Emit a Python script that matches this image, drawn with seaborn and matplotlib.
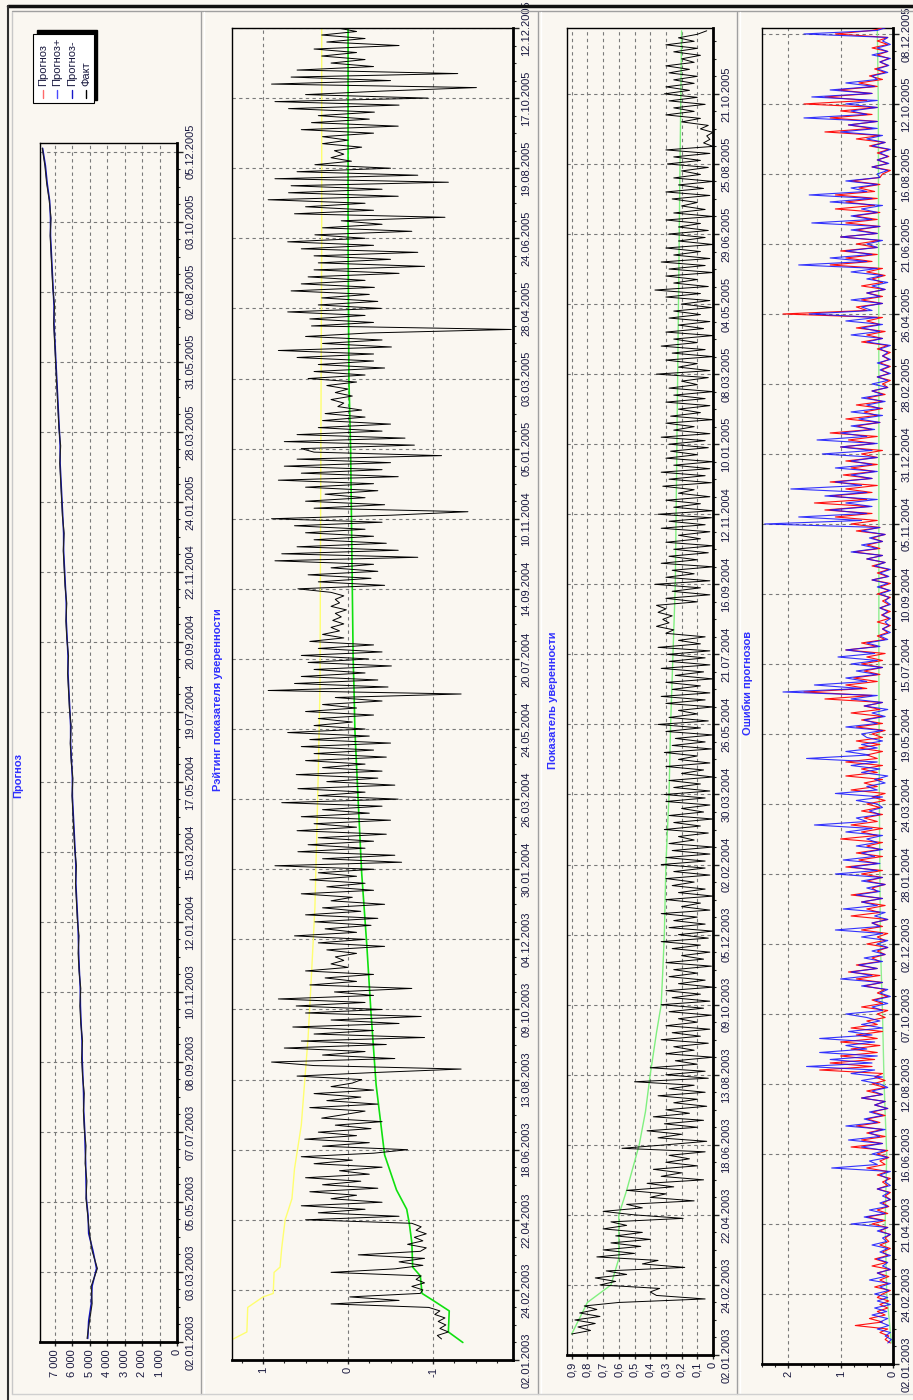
import numpy as np
import pandas as pd
import matplotlib
matplotlib.use("Agg")
import matplotlib.pyplot as plt
import seaborn as sns
from matplotlib.lines import Line2D
from matplotlib.patches import Rectangle
from matplotlib.ticker import MultipleLocator

sns.set_style("ticks")
plt.rcParams['font.family'] = ['Liberation Sans', 'DejaVu Sans']

# ---------------- data ----------------
dates_p1 = ["02.01.2003", "03.03.2003", "05.05.2003", "07.07.2003", "08.09.2003", "10.11.2003",
            "12.01.2004", "15.03.2004", "17.05.2004", "19.07.2004", "20.09.2004", "22.11.2004",
            "24.01.2005", "28.03.2005", "31.05.2005", "02.08.2005", "03.10.2005", "05.12.2005"]
dates_p2 = ["02.01.2003", "24.02.2003", "22.04.2003", "18.06.2003", "13.08.2003", "09.10.2003",
            "04.12.2003", "30.01.2004", "26.03.2004", "24.05.2004", "20.07.2004", "14.09.2004",
            "10.11.2004", "05.01.2005", "03.03.2005", "28.04.2005", "24.06.2005", "19.08.2005",
            "17.10.2005", "12.12.2005"]
dates_p3 = ["02.01.2003", "24.02.2003", "22.04.2003", "18.06.2003", "13.08.2003", "09.10.2003",
            "05.12.2003", "02.02.2004", "30.03.2004", "26.05.2004", "21.07.2004", "16.09.2004",
            "12.11.2004", "10.01.2005", "08.03.2005", "04.05.2005", "29.06.2005", "25.08.2005",
            "21.10.2005"]
dates_p4 = ["02.01.2003", "24.02.2003", "21.04.2003", "16.06.2003", "12.08.2003", "07.10.2003",
            "02.12.2003", "28.01.2004", "24.03.2004", "19.05.2004", "15.07.2004", "10.09.2004",
            "05.11.2004", "31.12.2004", "28.02.2005", "26.04.2005", "21.06.2005", "16.08.2005",
            "12.10.2005", "08.12.2005"]

# Panel 1: forecast (Прогноз) vs fact (Факт)
p1_fact = [5140, 5000, 4850, 4900, 4550, 4850, 5000, 5100, 5200, 5150,
           5250, 5200, 5300, 5350, 5300, 5400, 5450, 5400, 5500, 5550,
           5500, 5600, 5650, 5600, 5700, 5750, 5800, 5750, 5850, 5900,
           5950, 6000, 5950, 6050, 6100, 6050, 6150, 6200, 6250, 6200,
           6300, 6350, 6300, 6400, 6450, 6500, 6450, 6550, 6600, 6650,
           6700, 6650, 6750, 6800, 6850, 6900, 6950, 7000, 7050, 7000,
           7100, 7150, 7200, 7250, 7200, 7300, 7450, 7550, 7700]
p1_forecast = [5100, 5050, 4900, 4850, 4600, 4800, 5050, 5080, 5180, 5200,
               5220, 5250, 5280, 5330, 5340, 5380, 5420, 5430, 5480, 5520,
               5530, 5580, 5620, 5640, 5680, 5730, 5780, 5780, 5830, 5880,
               5930, 5980, 5980, 6030, 6080, 6080, 6130, 6180, 6230, 6230,
               6280, 6330, 6330, 6380, 6430, 6480, 6480, 6530, 6580, 6630,
               6680, 6680, 6730, 6780, 6830, 6880, 6930, 6980, 7030, 7030,
               7080, 7130, 7180, 7230, 7230, 7280, 7420, 7520, 7680]

# Panel 2: rating of the confidence indicator (every 2nd trading day)
p2_rating = [
    -1.10, -1.05, -1.18, -1.08, -1.15, -1.06, -1.14, -1.02, -1.08, -0.95, 0.20, -0.60, -0.02, -0.85,
    -0.88, -0.75, -0.90, -0.80, -0.86, 0.20, -0.55, -0.88, -0.60, -0.90,
    -0.12, -0.85, -0.92, -0.70, -0.88, -0.78, -0.92, -0.80, -0.86, -0.75,
    0.50, -0.60, 0.35, -0.20, 0.55, -0.40, 0.20, -0.10, 0.45, -0.35,
    0.30, -0.15, 0.50, -0.25, 0.10, -0.40, 0.40, -0.05, 0.55, -0.30,
    -0.70, 0.30, -0.25, 0.51, -0.10, 0.35, -0.27, 0.15, -0.40, 0.31,
    0.05, -0.20, 0.45, -0.35, 0.25, -0.15, 0.40, -0.30, 0.20, -0.05,
    -0.16, 0.60, -0.30, -1.33, 0.40, 0.90, -0.55, 0.30, -0.20, 0.75,
    -0.45, 0.55, -0.90, 0.40, -0.30, 0.65, -0.60, 0.20, -0.86, 0.50,
    -0.40, 0.61, -0.20, 0.82, -0.30, 0.16, -0.75, 0.45, -0.10, 0.27,
    -0.30, 0.50, 0.00, 0.20, 0.05, 0.15, -0.10, 0.25, -0.43, 0.35,
    -0.20, 0.63, -0.10, 0.27, -0.27, 0.39, -0.35, 0.50, -0.15, 0.30,
    -0.43, 0.20, -0.05, 0.55, -0.30, 0.25, -0.20, 0.45, -0.10, 0.35,
    -0.30, 0.86, -0.63, 0.30, -0.55, 0.59, -0.20, 0.47, -0.30, 0.35,
    -0.45, 0.60, -0.10, 0.40, -0.50, 0.55, -0.25, 0.30, -0.40, 0.78,
    -0.59, 0.35, -0.20, 0.59, -0.55, 0.25, -0.35, 0.61, -0.40, 0.30,
    -0.20, 0.50, -0.45, 0.40, -0.30, 0.55, -0.50, 0.45, -0.25, 0.71,
    -0.20, 0.40, -0.05, 0.35, -0.30, 0.50, -0.10, 0.30, -0.40, 0.15,
    -1.33, 0.94, -0.47, 0.63, -0.35, 0.55, -0.20, 0.40, -0.51, 0.47,
    -0.24, 0.55, -0.40, 0.35, -0.30, 0.45, 0.05, 0.30, 0.10, 0.20,
    0.05, 0.18, 0.08, 0.15, 0.02, 0.20, 0.10, 0.15, 0.05, 0.20,
    0.59, -0.43, 0.35, -0.27, 0.47, -0.35, 0.20, -0.30, 0.86, -0.82,
    0.78, -0.59, 0.60, -0.45, 0.40, -0.30, 0.50, -0.20, 0.63, -0.40,
    0.90, -0.50, -1.41, 0.40, -0.43, 0.50, -0.20, 0.27, -0.35, 0.50,
    -0.30, 0.82, -0.59, 0.55, -0.40, 0.75, -0.50, 0.60, -1.10, 0.40,
    0.55, -0.78, 0.75, -0.67, 0.60, -0.40, 0.35, -0.50, 0.30, -0.20,
    0.27, -0.16, 0.12, 0.05, 0.20, -0.05, 0.15, 0.00, 0.25, -0.10,
    0.47, -0.20, 0.40, -0.43, 0.35, -0.30, 0.60, -0.30, 0.82, -0.51,
    0.30, -0.40, 0.50, -0.25, -1.92, 0.43, -0.30, 0.45, -0.20, 0.71,
    -0.39, 0.35, -0.35, 0.31, -0.25, 0.67, -0.31, 0.55, -0.20, 0.47,
    -0.60, 0.40, -0.90, 0.35, -0.50, 0.40, -0.82, 0.55, -0.30, 0.71,
    -0.20, 0.39, -0.75, 0.30, -0.40, 0.08, -1.14, 0.63, -0.30, 0.50,
    -0.20, 0.94, -0.59, 0.70, -0.40, 0.67, -1.18, 0.86, -0.82, 0.60,
    -0.50, 0.39, -0.04, 0.20, 0.05, 0.16, -0.16, 0.30, 0.00, 0.30,
    -0.30, 0.55, -0.59, 0.43, -0.25, 0.35, -0.31, 0.70, -0.60, 0.86,
    -0.94, 0.50, -0.40, -1.51, 0.90, -0.50, 0.67, -1.29, 0.60, -0.30,
    0.20, -0.20, 0.31, -0.10, 0.40, -0.60, 0.25, -0.20, 0.31, -0.10,
    0.12]
p2_upper_days = [12, 16, 30, 36, 38, 50, 53, 64, 80, 92, 109, 134, 159, 184, 220, 258, 296,
                 336, 384, 520, 640, 760]
p2_upper = [1.35, 1.19, 1.18, 1.00, 0.88, 0.87, 0.80, 0.78, 0.74, 0.66, 0.63, 0.55, 0.51,
            0.47, 0.43, 0.39, 0.37, 0.35, 0.33, 0.32, 0.31, 0.31]
p2_mean_days = [10, 16, 28, 34, 38, 48, 53, 67, 78, 86, 97, 117, 157, 198, 237, 278, 318,
                360, 383, 400, 480, 520, 560, 640, 760]
p2_mean = [-1.35, -1.18, -1.19, -1.00, -0.87, -0.85, -0.76, -0.75, -0.72, -0.69, -0.57,
           -0.43, -0.33, -0.27, -0.22, -0.16, -0.12, -0.08, -0.07, -0.06, -0.04, -0.03,
           -0.01, 0.00, 0.00]

# Panel 3: confidence indicator (every 2nd trading day)
p3_conf = [
    0.90, 0.78, 0.86, 0.75, 0.88, 0.72, 0.85, 0.74, 0.82, 0.60, 0.05, 0.36, 0.40, 0.34,
    0.72, 0.62, 0.75, 0.55, 0.68, 0.18, 0.45, 0.35, 0.74, 0.50,
    0.70, 0.46, 0.65, 0.40, 0.62, 0.45, 0.70, 0.55, 0.65, 0.19,
    0.50, 0.70, 0.45, 0.55, 0.12, 0.40, 0.30, 0.55, 0.25, 0.42,
    0.06, 0.33, 0.20, 0.38, 0.10, 0.30, 0.15, 0.28, 0.05, 0.58,
    0.30, 0.04, 0.35, 0.20, 0.42, 0.10, 0.31, 0.06, 0.38, 0.15,
    0.30, 0.04, 0.25, 0.10, 0.35, 0.05, 0.28, 0.12, 0.50, 0.03,
    0.30, 0.05, 0.40, 0.10, 0.24, 0.00, 0.30, 0.12, 0.25, 0.03,
    0.33, 0.08, 0.26, 0.02, 0.30, 0.10, 0.22, 0.01, 0.28, 0.06,
    0.33, 0.02, 0.26, 0.08, 0.30, 0.00, 0.22, 0.05, 0.28, 0.10,
    0.25, 0.01, 0.30, 0.06, 0.20, 0.02, 0.26, 0.08, 0.33, 0.03,
    0.22, 0.00, 0.28, 0.05, 0.25, 0.10, 0.33, 0.02, 0.20, 0.08,
    0.30, 0.00, 0.22, 0.05, 0.26, 0.12, 0.30, 0.02, 0.25, 0.05,
    0.33, 0.05, 0.30, 0.02, 0.26, 0.00, 0.28, 0.12, 0.22, 0.03,
    0.31, 0.08, 0.25, 0.00, 0.28, 0.06, 0.20, 0.02, 0.30, 0.05,
    0.31, 0.02, 0.25, 0.08, 0.28, 0.00, 0.20, 0.06, 0.30, 0.02,
    0.22, 0.10, 0.31, 0.01, 0.26, 0.05, 0.24, 0.00, 0.30, 0.08,
    0.35, 0.03, 0.28, 0.10, 0.22, 0.00, 0.30, 0.05, 0.33, 0.02,
    0.26, 0.08, 0.30, 0.00, 0.24, 0.06, 0.33, 0.02, 0.28, 0.05,
    0.29, 0.02, 0.35, 0.08, 0.22, 0.05, 0.30, 0.25, 0.36, 0.28,
    0.32, 0.26, 0.35, 0.30, 0.36, 0.10, 0.30, 0.02, 0.26, 0.08,
    0.37, 0.02, 0.30, 0.12, 0.26, 0.00, 0.33, 0.10, 0.28, 0.03,
    0.25, 0.00, 0.30, 0.08, 0.22, 0.02, 0.33, 0.05, 0.28, 0.01,
    0.35, 0.00, 0.25, 0.08, 0.30, 0.02, 0.22, 0.12, 0.32, 0.01,
    0.28, 0.05, 0.33, 0.02, 0.25, 0.00, 0.30, 0.10, 0.27, 0.03,
    0.28, 0.05, 0.33, 0.02, 0.25, 0.12, 0.30, 0.00, 0.27, 0.08,
    0.22, 0.02, 0.30, 0.05, 0.25, 0.00, 0.28, 0.10, 0.20, 0.03,
    0.36, 0.02, 0.22, 0.10, 0.30, 0.00, 0.26, 0.05, 0.33, 0.10,
    0.25, 0.00, 0.30, 0.06, 0.22, 0.02, 0.28, 0.08, 0.25, 0.01,
    0.20, 0.02, 0.30, 0.08, 0.37, 0.03, 0.25, 0.10, 0.30, 0.00,
    0.28, 0.05, 0.33, 0.02, 0.25, 0.08, 0.30, 0.00, 0.22, 0.05,
    0.28, 0.03, 0.22, 0.08, 0.30, 0.00, 0.25, 0.05, 0.20, 0.10,
    0.26, 0.02, 0.30, 0.06, 0.22, 0.00, 0.25, 0.08, 0.20, 0.03,
    0.29, 0.08, 0.25, 0.02, 0.30, 0.00, 0.06, 0.02, 0.04, 0.00,
    0.08, 0.03, 0.20, 0.08, 0.30, 0.12, 0.25, 0.05, 0.28, 0.10,
    0.31, 0.15, 0.30, 0.12, 0.25, 0.10, 0.28, 0.15, 0.30, 0.12,
    0.20, 0.08, 0.25, 0.10, 0.30, 0.12, 0.22, 0.10, 0.04]
p3_mean_days = [12, 30, 40, 55, 80, 94, 120, 139, 160, 184, 200, 219, 240, 280, 320, 360,
                440, 520, 600, 680, 756]
p3_mean = [0.90, 0.80, 0.65, 0.60, 0.60, 0.55, 0.47, 0.43, 0.40, 0.36, 0.33, 0.32, 0.31,
           0.30, 0.28, 0.27, 0.24, 0.23, 0.22, 0.21, 0.20]

# Panel 4: forecast errors (every 2nd trading day)
p4_err_red = [
    0.05, 0.15, 0.08, 0.25, 0.10, 0.72, 0.20, 0.45, 0.15, 0.30, 0.10, 0.25, 0.08, 0.30,
    0.20, 0.05, 0.35, 0.10, 0.25, 0.08, 0.30, 0.05, 0.40, 0.12,
    0.35, 0.10, 0.20, 0.05, 0.25, 0.08, 0.15, 0.05, 0.25, 0.10,
    0.40, 0.15, 0.50, 0.10, 0.30, 0.08, 0.20, 0.05, 0.15, 0.05,
    0.30, 0.10, 0.20, 0.05, 0.30, 0.10, 0.50, 0.15, 0.25, 0.08,
    0.30, 0.10, 0.80, 0.20, 0.60, 0.15, 0.50, 0.20, 0.70, 0.25,
    0.50, 0.15, 0.40, 0.10, 0.35, 0.15, 0.60, 0.20, 0.50, 0.15,
    0.40, 0.15, 0.35, 0.20, 1.40, 0.40, 1.20, 0.35, 1.00, 0.30,
    0.80, 0.25, 1.00, 0.30, 0.70, 0.20, 0.80, 0.30, 0.50, 0.15,
    0.30, 0.10, 0.60, 0.20, 0.40, 0.10, 0.30, 0.15, 0.55, 0.20,
    0.70, 0.25, 0.85, 0.30, 0.70, 0.25, 0.40, 0.15, 0.30, 0.10,
    0.50, 0.15, 0.30, 0.10, 0.60, 0.20, 0.40, 0.10, 0.80, 0.25,
    0.50, 0.15, 0.60, 0.20, 0.80, 0.30, 0.40, 0.15, 0.50, 0.20,
    0.60, 0.20, 0.90, 0.30, 0.65, 0.20, 0.70, 0.25, 0.50, 0.20,
    1.00, 0.30, 0.60, 0.20, 0.80, 0.30, 0.55, 0.20, 0.60, 0.25,
    0.50, 0.15, 0.40, 0.15, 0.80, 0.30, 0.55, 0.20, 0.90, 0.30,
    0.60, 0.20, 0.90, 0.30, 0.50, 0.20, 0.65, 0.25, 0.70, 0.20,
    0.40, 0.15, 0.70, 0.20, 0.60, 0.20, 0.80, 0.25, 0.55, 0.20,
    1.30, 0.40, 1.70, 0.50, 0.90, 0.30, 0.75, 0.25, 0.55, 0.20,
    0.60, 0.20, 0.50, 0.15, 0.90, 0.30, 0.60, 0.15, 0.30, 0.10,
    0.20, 0.05, 0.30, 0.08, 0.22, 0.05, 0.25, 0.08, 0.20, 0.05,
    0.30, 0.08, 0.25, 0.05, 0.40, 0.10, 0.30, 0.08, 0.40, 0.15,
    0.50, 0.20, 0.75, 0.25, 0.50, 0.20, 0.40, 0.15, 0.70, 0.25,
    0.80, 0.30, 1.10, 0.40, 1.30, 0.45, 1.50, 0.50, 1.20, 0.40,
    0.90, 0.30, 1.20, 0.40, 0.95, 0.35, 0.80, 0.30, 0.90, 0.30,
    0.60, 0.20, 1.00, 0.35, 0.85, 0.30, 1.20, 0.40, 0.70, 0.25,
    0.90, 0.30, 0.55, 0.20, 0.70, 0.20, 0.50, 0.15, 0.40, 0.10,
    0.20, 0.05, 0.30, 0.08, 0.22, 0.05, 0.25, 0.08, 0.20, 0.05,
    0.30, 0.10, 0.60, 0.20, 0.50, 0.15, 0.70, 0.25, 0.50, 0.20,
    2.10, 0.50, 0.70, 0.20, 0.60, 0.20, 0.50, 0.15, 0.60, 0.20,
    0.40, 0.15, 0.50, 0.20, 1.20, 0.40, 0.90, 0.30, 1.00, 0.30,
    0.70, 0.25, 1.00, 0.30, 0.70, 0.25, 0.90, 0.30, 0.75, 0.25,
    1.10, 0.35, 0.90, 0.30, 1.10, 0.35, 0.65, 0.25, 0.80, 0.25,
    0.20, 0.05, 0.40, 0.10, 0.30, 0.08, 0.30, 0.08, 0.45, 0.15,
    0.70, 0.25, 1.30, 0.40, 0.85, 0.30, 1.20, 0.40, 1.00, 0.30,
    1.70, 0.50, 1.30, 0.40, 1.05, 0.30, 0.65, 0.20, 0.45, 0.15,
    0.35, 0.10, 0.25, 0.08, 0.30, 0.10, 0.40, 0.10, 0.30, 0.10,
    1.10, 0.40, 0.10]
p4_err_blue = [
    0.10, 0.03, 0.15, 0.05, 0.30, 0.08, 0.25, 0.10, 0.40, 0.12, 0.35, 0.05, 0.30, 0.10,
    0.35, 0.08, 0.25, 0.05, 0.45, 0.15, 0.30, 0.05, 0.20, 0.10,
    0.30, 0.05, 0.25, 0.10, 0.40, 0.12, 0.20, 0.05, 0.30, 0.10,
    0.80, 0.20, 0.55, 0.15, 0.45, 0.10, 0.25, 0.05, 0.20, 0.08,
    0.30, 0.05, 0.15, 0.10, 0.25, 0.05, 1.17, 0.30, 0.45, 0.10,
    0.40, 0.15, 0.60, 0.20, 0.85, 0.25, 0.45, 0.15, 0.90, 0.30,
    0.55, 0.20, 0.45, 0.10, 0.35, 0.15, 0.60, 0.20, 0.40, 0.10,
    0.25, 0.60, 0.20, 0.80, 0.35, 1.65, 0.40, 1.20, 0.30, 1.40,
    0.50, 0.90, 0.35, 1.40, 0.40, 0.85, 0.20, 0.60, 0.25, 0.50,
    0.90, 0.20, 0.40, 0.10, 0.35, 0.05, 0.25, 0.10, 0.60, 0.20,
    1.00, 0.40, 0.80, 0.30, 0.65, 0.20, 0.55, 0.15, 0.40, 0.10,
    0.30, 0.10, 0.60, 0.20, 1.10, 0.25, 0.40, 0.10, 0.35, 0.15,
    0.95, 0.30, 0.60, 0.20, 0.70, 0.25, 0.50, 0.15, 0.60, 0.20,
    1.10, 0.30, 0.80, 0.25, 0.95, 0.35, 0.60, 0.20, 0.70, 0.30,
    0.50, 0.20, 0.90, 0.40, 1.50, 0.50, 0.70, 0.25, 0.45, 0.20,
    0.30, 0.70, 0.20, 1.10, 0.30, 0.50, 0.15, 0.35, 0.10, 0.60,
    0.25, 0.80, 0.30, 1.65, 0.45, 0.90, 0.30, 0.60, 0.20, 0.50,
    0.60, 0.20, 0.90, 0.30, 0.55, 0.15, 0.40, 0.10, 0.55, 0.20,
    0.80, 0.30, 2.10, 0.60, 1.50, 0.50, 0.90, 0.30, 0.70, 0.20,
    0.80, 0.30, 1.05, 0.35, 0.90, 0.25, 0.50, 0.10, 0.25, 0.05,
    0.20, 0.08, 0.15, 0.05, 0.20, 0.10, 0.25, 0.05, 0.15, 0.08,
    0.25, 0.05, 0.30, 0.10, 0.40, 0.08, 0.25, 0.05, 0.35, 0.15,
    0.50, 0.20, 0.80, 0.30, 0.60, 0.20, 0.45, 0.15, 0.60, 0.25,
    2.45, 0.60, 1.80, 0.50, 1.20, 0.40, 0.90, 0.30, 1.30, 0.50,
    1.95, 0.60, 1.10, 0.40, 0.80, 0.30, 1.10, 0.40, 0.80, 0.30,
    1.35, 0.40, 1.00, 0.30, 1.45, 0.50, 1.00, 0.35, 0.80, 0.25,
    0.65, 0.20, 0.80, 0.25, 0.50, 0.15, 0.60, 0.20, 0.40, 0.10,
    0.40, 0.10, 0.30, 0.05, 0.25, 0.08, 0.30, 0.05, 0.20, 0.10,
    0.25, 0.05, 0.50, 0.20, 0.80, 0.25, 0.60, 0.20, 0.90, 0.30,
    1.60, 0.40, 0.60, 0.20, 0.80, 0.25, 0.50, 0.15, 0.40, 0.10,
    0.50, 0.20, 0.80, 0.30, 1.80, 0.50, 1.20, 0.40, 0.90, 0.30,
    0.50, 0.20, 1.00, 0.30, 0.80, 0.25, 1.55, 0.40, 0.80, 0.30,
    0.60, 0.20, 1.20, 0.40, 1.60, 0.50, 0.80, 0.30, 0.90, 0.25,
    0.30, 0.10, 0.40, 0.08, 0.30, 0.10, 0.25, 0.05, 0.40, 0.15,
    0.50, 0.20, 1.00, 0.30, 0.85, 0.30, 1.70, 0.50, 0.80, 0.30,
    0.90, 0.30, 1.55, 0.40, 1.20, 0.35, 0.90, 0.30, 0.40, 0.10,
    0.30, 0.08, 0.25, 0.05, 0.40, 0.10, 0.30, 0.05, 0.20, 0.10,
    1.70, 0.30, 0.10]
p4_mean_days = [12, 40, 80, 120, 160, 200, 240, 320, 400, 560, 720, 764]
p4_mean = [0.03, 0.12, 0.15, 0.12, 0.17, 0.20, 0.24, 0.26, 0.27, 0.27, 0.28, 0.30]

# trading-day positions of the series
days_p1 = np.arange(2, 2 + 10 * len(p1_fact), 10)
days_p2 = np.arange(12, 12 + 2 * len(p2_rating), 2)
days_p3 = np.arange(12, 12 + 2 * len(p3_conf), 2)
days_p4r = np.arange(12, 12 + 2 * len(p4_err_red), 2)
days_p4b = np.arange(12, 12 + 2 * len(p4_err_blue), 2)

# ---------------- figure ----------------
W, H = 913, 1400
BG = "#FAF7F1"
TXT = "#1A1A40"
TITLE = "#3030FF"
fig = plt.figure(figsize=(W / 100, H / 100), dpi=100)
fig.patch.set_facecolor(BG)


def rect(l, t, r, b):
    return [l / W, 1 - b / H, (r - l) / W, (b - t) / H]


def line(ax, vals, pos, color, lw, z=2, alpha=1.0):
    df = pd.DataFrame({"v": vals, "d": pos})
    sns.lineplot(data=df, x="v", y="d", orient="y", estimator=None, color=color,
                 linewidth=lw, ax=ax, legend=False, zorder=z, alpha=alpha)


def style(ax, dates, ytop, xlim, xticks, xlabels, xminor=None):
    ax.set_facecolor(BG)
    ax.set_axisbelow(True)
    ax.set_ylim(0, ytop)
    ax.set_xlim(*xlim)
    ax.set_yticks(np.arange(len(dates)) * 40)
    ax.set_yticklabels(dates, rotation=90, va="center")
    ax.yaxis.tick_right()
    ax.yaxis.set_minor_locator(MultipleLocator(10))
    ax.set_xticks(xticks)
    ax.set_xticklabels(xlabels, rotation=90)
    if xminor:
        ax.xaxis.set_minor_locator(MultipleLocator(xminor))
    ax.tick_params(axis="y", which="major", right=True, left=False, labelright=True,
                   labelleft=False, length=4, width=1, pad=2, labelsize=8, labelcolor=TXT)
    ax.tick_params(axis="y", which="minor", right=True, left=False, length=2.5, width=0.8)
    ax.tick_params(axis="x", which="major", length=3, width=1, pad=2, labelsize=8,
                   labelcolor=TXT)
    ax.tick_params(axis="x", which="minor", length=2, width=0.8)
    ax.grid(True, which="major", color="#7A7A7A", linestyle=(0, (3, 3)), linewidth=0.8)
    for s in ("left", "top"):
        ax.spines[s].set_linewidth(1.0)
        ax.spines[s].set_color("black")
    for s in ("right", "bottom"):
        ax.spines[s].set_linewidth(2.0)
        ax.spines[s].set_color("black")
    ax.set_xlabel("")
    ax.set_ylabel("")


# Panel 1
ax1 = fig.add_axes(rect(40, 143, 177, 1342))
line(ax1, p1_forecast, days_p1, "#1010C0", 1.1)
line(ax1, p1_fact, days_p1, "#202020", 0.8, z=3)
style(ax1, dates_p1, 685, (7830, 0), np.arange(0, 8000, 1000),
      ["0", "1 000", "2 000", "3 000", "4 000", "5 000", "6 000", "7 000"])

# Panel 2
ax2 = fig.add_axes(rect(232, 28, 513, 1360))
line(ax2, p2_upper, p2_upper_days, "#FFFF70", 1.0)
line(ax2, p2_mean, p2_mean_days, "#10E010", 1.2)
line(ax2, p2_rating, days_p2, "black", 0.7, z=3)
style(ax2, dates_p2, 760, (1.365, -1.94), [-1, 0, 1], ["-1", "0", "1"], xminor=0.25)

# Panel 3
ax3 = fig.add_axes(rect(567, 28, 713, 1355))
line(ax3, p3_mean, p3_mean_days, "#80F080", 1.0)
line(ax3, p3_conf, days_p3, "black", 0.7, z=3)
style(ax3, dates_p3, 757.6, (0.93, 0.0), np.round(np.arange(0, 1.0, 0.1), 1),
      ["0", "0,1", "0,2", "0,3", "0,4", "0,5", "0,6", "0,7", "0,8", "0,9"])

# Panel 4
ax4 = fig.add_axes(rect(762, 28, 893, 1364))
line(ax4, p4_mean, p4_mean_days, "#90EE90", 1.0)
line(ax4, p4_err_red, days_p4r, "#FF1010", 0.8, z=3)
line(ax4, p4_err_blue, days_p4b, "#1010FF", 0.8, z=4, alpha=0.85)
style(ax4, dates_p4, 763.4, (2.5, 0.0), [0, 1, 2], ["0", "1", "2"], xminor=0.25)

# Titles
for x, y, t in [(18, 775, "Прогноз"), (218, 700, "Рэйтинг показателя уверенности"),
                (553, 700, "Показатель уверенности"), (748, 683, "Ошибки прогнозов")]:
    fig.text(x / W, 1 - y / H, t, rotation=90, color=TITLE, fontsize=8,
             fontweight="bold", ha="center", va="center")

# Frame lines
def fline(x0, y0, x1, y1, color, lw):
    fig.add_artist(Line2D([x0 / W, x1 / W], [1 - y0 / H, 1 - y1 / H], color=color,
                          linewidth=lw, transform=fig.transFigure))

fline(8, 6, 913, 6, "#101010", 2.5)
fline(12, 11, 913, 11, "#A0A0A0", 1.0)
fline(8, 6, 8, 1400, "#303030", 1.5)
fline(12, 12, 12, 1394, "#C8C8C8", 1.0)
for xs in (201, 538, 737):
    fline(xs, 12, xs, 1394, "#A0A0A0", 1.0)
    fline(xs + 3, 12, xs + 3, 1394, "#FFFFFF", 1.0)
fline(12, 1394, 913, 1394, "#D0D0D0", 1.0)

# Legend (rotated, drawn by hand)
lax = fig.add_axes(rect(28, 24, 102, 108))
lax.set_xlim(28, 102)
lax.set_ylim(108, 24)
lax.axis("off")
lax.add_patch(Rectangle((37, 30), 60, 70, facecolor="black", edgecolor="black"))
lax.add_patch(Rectangle((33, 34), 61, 69, facecolor="white", edgecolor="black", lw=0.8))
for x, lab, c in [(43, "Прогноз", "#FF6A6A"), (57, "Прогноз+", "#4A4AFF"),
                  (72, "Прогноз-", "#1818C8"), (86, "Факт", "black")]:
    lax.plot([x, x], [90, 98], color=c, lw=1.0)
    lax.text(x, 86, lab, rotation=90, ha="center", va="bottom", fontsize=8, color=TXT)

fig.savefig("out.png", dpi=100, facecolor=BG)
